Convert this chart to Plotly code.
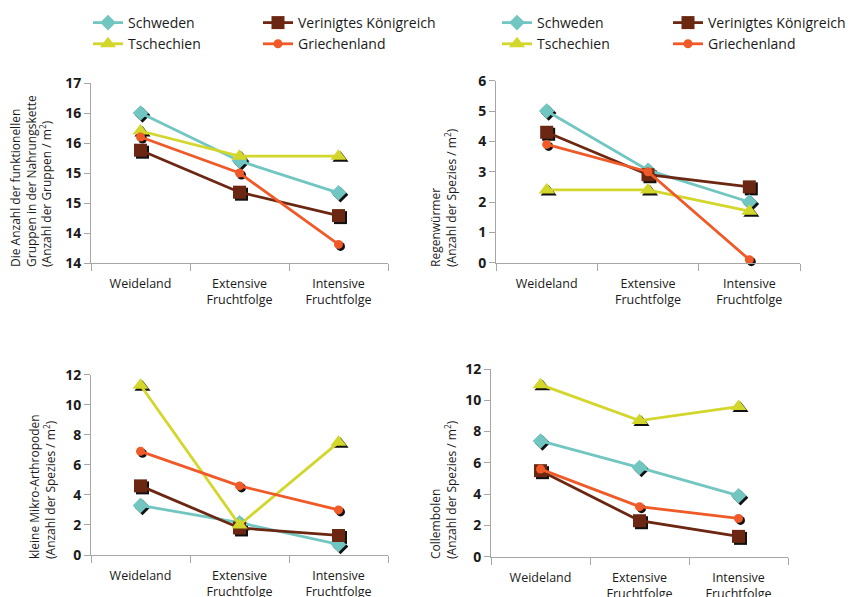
import plotly.graph_objects as go

# ---------------- data ----------------
categories = ["Weideland", "Extensive<br>Fruchtfolge", "Intensive<br>Fruchtfolge"]
countries = ["Schweden", "Verinigtes Königreich", "Tschechien", "Griechenland"]

# Die Anzahl der funktionellen Gruppen in der Nahrungskette
fg_schweden = [16.5, 15.7, 15.17]
fg_vk = [15.88, 15.18, 14.79]
fg_tschechien = [16.2, 15.78, 15.78]
fg_griechenland = [16.1, 15.5, 14.31]
fg_tickvals = [14, 14.5, 15, 15.5, 16, 16.5, 17]
fg_ticktext = ["14", "14", "15", "15", "16", "16", "17"]

# Regenwürmer
rw_schweden = [5.0, 3.05, 2.0]
rw_vk = [4.3, 2.9, 2.5]
rw_tschechien = [2.4, 2.4, 1.7]
rw_griechenland = [3.9, 3.0, 0.1]

# kleine Mikro-Arthropoden
ma_schweden = [3.3, 2.15, 0.7]
ma_vk = [4.6, 1.8, 1.3]
ma_tschechien = [11.3, 2.0, 7.5]
ma_griechenland = [6.9, 4.6, 3.0]

# Collembolen
co_schweden = [7.4, 5.7, 3.9]
co_vk = [5.5, 2.3, 1.3]
co_tschechien = [11.0, 8.7, 9.6]
co_griechenland = [5.6, 3.2, 2.45]

# ---------------- styles ----------------
W, H = 854, 597
OFF = 8  # page body margin in the browser
FONT = "Open Sans"
colors = ["#72c6c1", "#6b2712", "#d3d62b", "#ef5a28"]
symbols = ["diamond", "square", "triangle-up", "circle"]
msizes = [12, 13, 14, 9]
AXC = "#a6a6a6"
TXT = "#1a1a1a"

panels = [
    dict(series=[fg_schweden, fg_vk, fg_tschechien, fg_griechenland], rng=[14, 17],
         tickvals=fg_tickvals, ticktext=fg_ticktext, px=(91, 388), py=(83, 263)),
    dict(series=[rw_schweden, rw_vk, rw_tschechien, rw_griechenland], rng=[0, 6],
         tickvals=[0, 1, 2, 3, 4, 5, 6], ticktext=None, px=(496, 800), py=(80.7, 262.7)),
    dict(series=[ma_schweden, ma_vk, ma_tschechien, ma_griechenland], rng=[0, 12],
         tickvals=[0, 2, 4, 6, 8, 10, 12], ticktext=None, px=(91, 388), py=(374.7, 555)),
    dict(series=[co_schweden, co_vk, co_tschechien, co_griechenland], rng=[0, 12],
         tickvals=[0, 2, 4, 6, 8, 10, 12], ticktext=None, px=(491, 788), py=(369, 556.7)),
]

legend_for = {0: ["legend", "legend2", "legend", "legend2"],
              1: ["legend3", "legend4", "legend3", "legend4"]}

fig = go.Figure()
layout = {}
for i, p in enumerate(panels):
    base = i + 1          # shadow (invisible) axes
    main = i + 5          # visible axes overlaying base
    bx = "x" if base == 1 else f"x{base}"
    by = "y" if base == 1 else f"y{base}"
    mx, my = f"x{main}", f"y{main}"
    x0, x1 = p["px"][0] - OFF, p["px"][1] - OFF
    ytop, ybot = p["py"][0] - OFF, p["py"][1] - OFF
    pw, ph = x1 - x0, ybot - ytop
    lo, hi = p["rng"]
    sx = 2 * 3.0 / pw
    sy = 2 * (hi - lo) / ph
    dom_x = [x0 / W, x1 / W]
    dom_y = [1 - ybot / H, 1 - ytop / H]
    layout["xaxis" if base == 1 else f"xaxis{base}"] = dict(
        domain=dom_x, anchor=by, type="category", range=[-0.5 - sx, 2.5 - sx],
        visible=False, showgrid=False, fixedrange=True, automargin=False)
    layout["yaxis" if base == 1 else f"yaxis{base}"] = dict(
        domain=dom_y, anchor=bx, range=[lo + sy, hi + sy],
        visible=False, showgrid=False, fixedrange=True, automargin=False)
    layout[f"xaxis{main}"] = dict(
        overlaying=bx, anchor=my, type="category", range=[-0.5, 2.5],
        showline=True, linecolor=AXC, linewidth=1, showgrid=False, zeroline=False,
        ticks="outside", tickson="boundaries", ticklen=7, tickcolor=AXC,
        ticklabelstandoff=9, automargin=False,
        tickfont=dict(family=FONT, size=12.5, color=TXT))
    ydict = dict(
        overlaying=by, anchor=mx, range=[lo, hi],
        showline=True, linecolor=AXC, linewidth=1, showgrid=False, zeroline=False,
        ticks="outside", ticklen=6, tickcolor=AXC, tickvals=p["tickvals"],
        automargin=False,
        tickfont=dict(family=FONT, size=14, color=TXT, weight=700))
    if p["ticktext"]:
        ydict["ticktext"] = p["ticktext"]
    layout[f"yaxis{main}"] = ydict

    # shadows of markers
    for k, vals in enumerate(p["series"]):
        fig.add_trace(go.Scatter(
            x=categories, y=vals, xaxis=bx, yaxis=by, mode="markers",
            marker=dict(symbol=symbols[k], size=msizes[k], color="#111111"),
            showlegend=False, hoverinfo="skip", cliponaxis=False))
    # main series
    for k, vals in enumerate(p["series"]):
        show = i in legend_for
        tr = dict(
            x=categories, y=vals, xaxis=mx, yaxis=my, mode="lines+markers",
            name=countries[k],
            line=dict(color=colors[k], width=2.8),
            marker=dict(symbol=symbols[k], size=msizes[k], color=colors[k]),
            showlegend=show, cliponaxis=False)
        if show:
            tr["legend"] = legend_for[i][k]
        fig.add_trace(go.Scatter(**tr))

leg_common = dict(orientation="v", yanchor="top", xanchor="left",
                  font=dict(family=FONT, size=14, color=TXT),
                  bgcolor="rgba(0,0,0,0)", itemwidth=30, tracegroupgap=0)
for name, xpx in [("legend", 80), ("legend2", 250), ("legend3", 489), ("legend4", 660)]:
    layout[name] = dict(leg_common, x=xpx / W, y=1 + 1 / H)

title_font = dict(family=FONT, size=12, color=TXT)
ytitles = [
    ("Die Anzahl der funktionellen<br>Gruppen in der Nahrungskette<br>(Anzahl der Gruppen / m<sup>2</sup>)", 5, 269),
    ("Regenwürmer<br>(Anzahl der Spezies / m<sup>2</sup>)", 425, 269),
    ("kleine Mikro-Arthropoden<br>(Anzahl der Spezies / m<sup>2</sup>)", 24, 561),
    ("Collembolen<br>(Anzahl der Spezies / m<sup>2</sup>)", 425, 561),
]
annotations = []
for text, xl, yb in ytitles:
    annotations.append(dict(text=text, textangle=-90, xref="paper", yref="paper",
                            x=(xl - OFF) / W, y=1 - (yb - OFF) / H,
                            xanchor="left", yanchor="bottom",
                            align="left", showarrow=False, font=title_font))

fig.update_layout(
    width=W, height=H, margin=dict(l=0, r=0, t=0, b=0, autoexpand=False),
    paper_bgcolor="white", plot_bgcolor="white",
    annotations=annotations, **layout)

fig.write_html("out.html")
